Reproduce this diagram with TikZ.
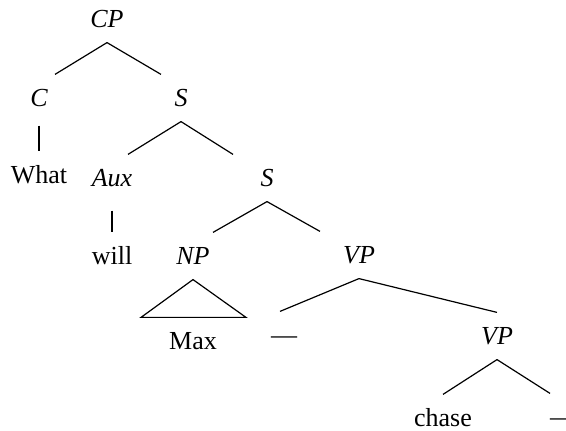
\documentclass[tikz,border=0pt]{standalone}
\usepackage{fontspec}
\setmainfont{Liberation Serif}
\begin{document}
\begin{tikzpicture}[x=0.5pt, y=-0.5pt, line width=0.6pt,
  cat/.style={anchor=base, font=\fontsize{13}{15}\selectfont\itshape, text height=9pt, text depth=0pt, inner ysep=7pt, inner xsep=0pt},
  word/.style={cat, font=\fontsize{13}{15}\selectfont}]
\useasboundingbox (0,0) rectangle (566,431);
% categories
\node[cat] (cp) at (107,28) {CP};
\node[cat] (c) at (39,107) {C};
\node[cat] (s1) at (181,107) {S};
\node[cat] (aux) at (112,187) {Aux};
\node[cat] (s2) at (267,187) {S};
\node[cat] (np) at (193,265) {NP};
\node[cat] (vp1) at (359,264) {VP};
\node[cat] (vp2) at (497,345) {VP};
% words and gaps
\node[word] (what) at (39,184) {What};
\node[word] (will) at (112,265) {will};
\node[word] (max) at (193,350) {Max};
\node[word] (chase) at (443,427) {chase};
\node[word] (gap1) at (284,344) {---};
\node[word] (gap2) at (563,426) {---};
% branches
\draw (cp.south) -- ([xshift=8pt]c.north);
\draw (cp.south) -- ([xshift=-10pt]s1.north);
\draw[shorten <=2pt] (c.south) -- (what.north);
\draw (s1.south) -- ([xshift=8pt]aux.north);
\draw (s1.south) -- ([xshift=-17pt]s2.north);
\draw[shorten <=4.5pt] (aux.south) -- (will.north);
\draw (s2.south) -- ([xshift=10pt]np.north);
\draw (s2.south) -- ([xshift=-19.5pt]vp1.north);
\draw (np.south) -- ([xshift=-26pt]max.north) -- ([xshift=26.5pt]max.north) -- cycle;
\draw (vp1.south) -- ([xshift=-2pt]gap1.north);
\draw (vp1.south) -- (vp2.north);
\draw (vp2.south) -- (chase.north);
\draw (vp2.south) -- ([xshift=-6.5pt]gap2.north);
\end{tikzpicture}
\end{document}
